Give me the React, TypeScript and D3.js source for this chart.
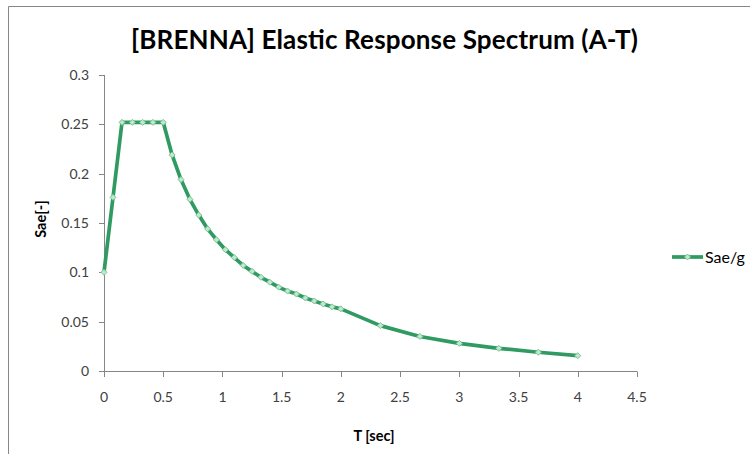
import * as d3 from 'd3'

// Sae/g spectrum
const periods = [
  0, 0.076, 0.152, 0.239, 0.326, 0.413, 0.5,
  0.575, 0.65, 0.725, 0.8, 0.875, 0.95, 1.025, 1.1, 1.175, 1.25,
  1.325, 1.4, 1.475, 1.55, 1.625, 1.7, 1.775, 1.85, 1.925, 2.0,
  2.333, 2.667, 3.0, 3.333, 3.667, 4.0,
]
const saeValues = [
  0.1, 0.176, 0.252, 0.252, 0.252, 0.252, 0.252,
  0.219, 0.194, 0.174, 0.158, 0.144, 0.133, 0.123, 0.115, 0.107, 0.101,
  0.095, 0.09, 0.085, 0.081, 0.078, 0.074, 0.071, 0.068, 0.065, 0.063,
  0.046, 0.035, 0.028, 0.023, 0.019, 0.0155,
]
const xTicks = [0, 0.5, 1, 1.5, 2, 2.5, 3, 3.5, 4, 4.5]
const yTicks = [0, 0.05, 0.1, 0.15, 0.2, 0.25, 0.3]

const W = 750
const H = 454
const font = 'Lato, sans-serif'
const lineColor = '#2f9a62'
const axisColor = '#868686'

export default function App() {
  const x = d3.scaleLinear().domain([0, 4.5]).range([104, 637])
  const y = d3.scaleLinear().domain([0, 0.3]).range([371, 75])

  const pts = periods.map((t, i) => [t, saeValues[i]] as [number, number])
  const line = d3.line<[number, number]>()
    .x(d => x(d[0]))
    .y(d => y(d[1]))

  const diamond = (cx: number, cy: number, r = 3) =>
    `M${cx},${cy - r}L${cx + r},${cy}L${cx},${cy + r}L${cx - r},${cy}Z`

  return (
    <svg width={W} height={H} style={{ position: 'absolute', left: 0, top: 0 }}>
      <rect x={0} y={0} width={W} height={H} fill="#fff" />
      {/* chart frame */}
      <path d={`M8.5,${H}V6.5H${W}`} fill="none" stroke={axisColor} strokeWidth={1} />

      <text x={131} y={49} fontFamily={font} fontSize={26} fontWeight="bold" fill="#000"
        textLength={507} lengthAdjust="spacing">
        [BRENNA] Elastic Response Spectrum (A-T)
      </text>

      {/* y axis */}
      <line x1={104.5} x2={104.5} y1={y(0.3)} y2={y(0)} stroke={axisColor} />
      {yTicks.map(t => (
        <g key={'y' + t}>
          <line x1={99} x2={104.5} y1={Math.round(y(t)) + 0.5} y2={Math.round(y(t)) + 0.5} stroke={axisColor} />
          <text x={89} y={y(t) + 5} textAnchor="end" fontFamily={font} fontSize={14} fill="#404040">
            {t}
          </text>
        </g>
      ))}

      {/* x axis */}
      <line x1={x(0)} x2={x(4.5)} y1={371.5} y2={371.5} stroke={axisColor} />
      {xTicks.map(t => (
        <g key={'x' + t}>
          <line x1={Math.round(x(t)) + 0.5} x2={Math.round(x(t)) + 0.5} y1={371.5} y2={377} stroke={axisColor} />
          <text x={x(t)} y={402} textAnchor="middle" fontFamily={font} fontSize={14} fill="#404040">
            {t}
          </text>
        </g>
      ))}

      <text x={374} y={441} textAnchor="middle" fontFamily={font} fontSize={14.5} fontWeight="bold" fill="#000">
        T [sec]
      </text>
      <text transform="translate(46,219) rotate(-90)" textAnchor="middle" fontFamily={font} fontSize={14.5} fontWeight="bold" fill="#000">
        Sae[-]
      </text>

      {/* series */}
      <path d={line(pts) ?? ''} fill="none" stroke={lineColor} strokeWidth={3.7} strokeLinejoin="round" />
      {pts.map((p, i) => (
        <path key={i} d={diamond(x(p[0]), y(p[1]))} fill="#c2e6cf" stroke="#78c696" strokeWidth={1} />
      ))}

      {/* legend */}
      <line x1={672} x2={703} y1={257} y2={257} stroke={lineColor} strokeWidth={3.7} />
      <path d={diamond(687.5, 257)} fill="#c2e6cf" stroke="#78c696" strokeWidth={1} />
      <text x={705} y={263} fontFamily={font} fontSize={16} fill="#000">Sae/g</text>
    </svg>
  )
}
